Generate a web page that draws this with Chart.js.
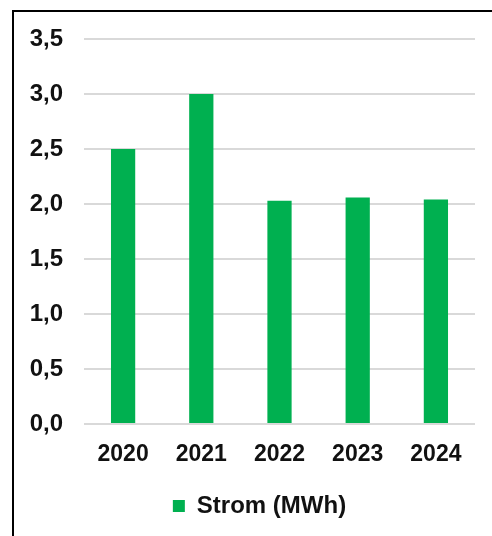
<!DOCTYPE html>
<html>
<head>
<meta charset="utf-8">
<script src="https://cdn.jsdelivr.net/npm/chart.js@4/dist/chart.umd.min.js"></script>
<style>
  html, body { margin: 0; padding: 0; background: #fff; overflow: hidden; }
  #frame { position: absolute; left: 12px; top: 10px; width: 480px; height: 526px;
           border-top: 2px solid #000; border-left: 2px solid #000; }
  #c { position: absolute; left: 0; top: 0; }
</style>
</head>
<body>
<div id="frame"><canvas id="c" width="478" height="524"></canvas></div>
<script>
const categories = ['2020', '2021', '2022', '2023', '2024'];
const seriesName = 'Strom (MWh)';
const stromValues = [2.5, 3.0, 2.03, 2.06, 2.04];
const yTicks = [0, 0.5, 1.0, 1.5, 2.0, 2.5, 3.0, 3.5];

const FONT = "'Liberation Sans', Arial, sans-serif";
const GRID = '#d9d9d9';
const TXT = '#111';

const shiftLegend = {
  id: 'shiftLegend',
  afterLayout(chart) {
    const l = chart.legend;
    if (l) { l.left += 15; l.right += 15; }
  }
};

new Chart(document.getElementById('c'), {
  type: 'bar',
  data: {
    labels: categories,
    datasets: [{
      label: seriesName,
      data: stromValues,
      backgroundColor: '#00b050',
      borderWidth: 0,
      categoryPercentage: 1.0,
      barPercentage: 0.31
    }]
  },
  plugins: [shiftLegend],
  options: {
    responsive: false,
    animation: false,
    layout: { padding: { top: 27, right: 17, left: 0, bottom: 8 } },
    plugins: {
      tooltip: { enabled: false },
      legend: {
        position: 'bottom',
        labels: {
          boxWidth: 12, boxHeight: 12, color: TXT,
          font: { family: FONT, size: 24, weight: 'bold' },
          padding: 10
        }
      }
    },
    scales: {
      x: {
        afterFit: (s) => { s.height = 60; },
        grid: { display: false, drawTicks: false },
        border: { display: false },
        ticks: { color: TXT, font: { family: FONT, size: 23, weight: 'bold' }, padding: 17 }
      },
      y: {
        min: 0, max: 3.5,
        afterFit: (s) => { s.width = 70; s.paddingTop = 14; s.paddingBottom = 14; },
        afterBuildTicks: (s) => { s.ticks = yTicks.map(v => ({ value: v })); },
        grid: { color: GRID, lineWidth: 2, drawTicks: false },
        border: { display: false },
        ticks: {
          color: TXT, padding: 21,
          font: { family: FONT, size: 24, weight: 'bold' },
          callback: (v) => Number(v).toFixed(1).replace('.', ',')
        }
      }
    }
  }
});
</script>
</body>
</html>
